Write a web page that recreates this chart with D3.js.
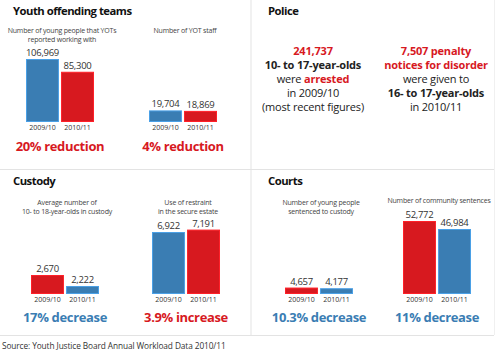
<!DOCTYPE html>
<html><head><meta charset="utf-8">
<script src="https://cdn.jsdelivr.net/npm/d3@7"></script>
<style>
html,body{margin:0;padding:0;background:#fff;}
svg{display:block;font-family:"Open Sans","Noto Sans",sans-serif;}
</style></head><body>
<svg id="c" width="500" height="355"></svg>
<script>
const years = ["2009/10", "2010/11"];
const BLUE = "#3a7db3", RED = "#d7191f";

// chart data
const yotWorkedWith = [106969, 85300];
const yotStaff = [19704, 18869];
const custodyAverage = [2670, 2222];
const restraintUse = [6922, 7191];
const sentencedCustody = [4657, 4177];
const communitySentences = [52772, 46984];

const sectionTitles = ["Youth offending teams", "Police", "Custody", "Courts"];
const chartSubtitles = [
  ["Number of young people that YOTs", "reported working with"],
  ["Number of YOT staff"],
  ["Average number of", "10- to 18-year-olds in custody"],
  ["Use of restraint", "in the secure estate"],
  ["Number of young people", "sentenced to custody"],
  ["Number of community sentences"]
];
const changeLabels = ["20% reduction", "4% reduction", "17% decrease", "3.9% increase", "10.3% decrease", "11% decrease"];
const policeLeft = [
  [{t:"241,737", c:"red", b:true}],
  [{t:"10- to 17-year-olds", c:"dark", b:true}],
  [{t:"were ", c:"dark", b:false},{t:"arrested", c:"red", b:true}],
  [{t:"in 2009/10", c:"dark", b:false}],
  [{t:"(most recent figures)", c:"dark", b:false}]
];
const policeRight = [
  [{t:"7,507 penalty", c:"red", b:true}],
  [{t:"notices for disorder", c:"red", b:true}],
  [{t:"were given to", c:"dark", b:false}],
  [{t:"16- to 17-year-olds", c:"dark", b:true}],
  [{t:"in 2010/11", c:"dark", b:false}]
];
const sourceText = "Source: Youth Justice Board Annual Workload Data 2010/11";

const svg = d3.select("#c");
const DARK = "#222";
const GREY = "#444";

// frame lines
const lineCol = "#e3e3e3";
svg.append("line").attr("x1",251).attr("x2",251).attr("y1",0).attr("y2",335).attr("stroke",lineCol);
svg.append("line").attr("x1",0).attr("x2",494).attr("y1",169.5).attr("y2",169.5).attr("stroke",lineCol);
svg.append("line").attr("x1",0).attr("x2",494).attr("y1",335.5).attr("y2",335.5).attr("stroke",lineCol);
svg.append("line").attr("x1",494.5).attr("x2",494.5).attr("y1",0).attr("y2",335).attr("stroke","#f0f0f0");

// section titles
const titlePos = [[13,15],[268,15],[13,185],[268,185]];
sectionTitles.forEach((t,i)=>{
  svg.append("text").attr("x",titlePos[i][0]).attr("y",titlePos[i][1])
    .attr("font-size",11.3).attr("font-weight",700).attr("fill","#111")
    .attr("letter-spacing",-0.5).text(t);
});

const charts = [
  {vals: yotWorkedWith, x0: 26, base: 122, max: 106969, h: 63, d0: 0, cols:[BLUE,RED], sub: chartSubtitles[0], subY: 33, lab: changeLabels[0], labCol: RED, labY: 151},
  {vals: yotStaff, x0: 149, base: 122, max: 106969, h: 63, d0: 0, cols:[BLUE,RED], sub: chartSubtitles[1], subY: 33, lab: changeLabels[1], labCol: RED, labY: 151},
  {vals: custodyAverage, x0: 31, base: 294, max: 2670, h: 19, d0: 1896, cols:[RED,BLUE], sub: chartSubtitles[2], subY: 205, lab: changeLabels[2], labCol: BLUE, labY: 322},
  {vals: restraintUse, x0: 152, base: 294, max: 6922, h: 62, d0: 0, cols:[BLUE,RED], sub: chartSubtitles[3], subY: 205, lab: changeLabels[3], labCol: RED, labY: 322},
  {vals: sentencedCustody, x0: 285, base: 294, max: 52772, h: 73, d0: 0, cols:[RED,BLUE], sub: chartSubtitles[4], subY: 205, lab: changeLabels[4], labCol: BLUE, labY: 322},
  {vals: communitySentences, x0: 403, base: 294, max: 52772, h: 73, d0: 0, cols:[RED,BLUE], sub: chartSubtitles[5], subY: 203, lab: changeLabels[5], labCol: BLUE, labY: 322}
];
const fmt = d3.format(",");

charts.forEach(ch=>{
  const g = svg.append("g");
  const x = d3.scaleBand().domain(years).range([ch.x0, ch.x0+68]).paddingInner(0.06).paddingOuter(0);
  const y = d3.scaleLinear().domain([ch.d0, ch.max]).range([ch.base, ch.base-ch.h]);
  const cx = ch.x0 + 34;
  ch.sub.forEach((s,i)=>{
    g.append("text").attr("x",cx+2).attr("y",ch.subY + i*9).attr("text-anchor","middle")
      .attr("font-size",7).attr("fill",GREY).attr("letter-spacing",-0.2).text(s);
  });
  g.selectAll("rect").data(ch.vals).join("rect")
    .attr("x",(d,i)=>x(years[i])+0.5).attr("width",x.bandwidth()-1)
    .attr("y",d=>y(d)+0.5).attr("height",d=>ch.base-y(d)-1)
    .attr("fill",(d,i)=>ch.cols[i])
    .attr("stroke",(d,i)=>d3.color(ch.cols[i]).brighter(0.7)).attr("stroke-width",1);
  g.selectAll("text.v").data(ch.vals).join("text").attr("class","v")
    .attr("x",(d,i)=>x(years[i])+x.bandwidth()/2).attr("y",d=>y(d)-3)
    .attr("text-anchor","middle").attr("font-size",9.5).attr("fill","#333")
    .attr("letter-spacing",-0.3).text(d=>fmt(d));
  const ax = d3.axisBottom(x).tickSize(0).tickPadding(0);
  const axg = g.append("g").attr("transform",`translate(0,${ch.base+8})`).call(ax);
  axg.select(".domain").remove();
  axg.selectAll("text").attr("font-size",7).attr("fill","#333").attr("font-family","'Open Sans',sans-serif").attr("dy","0");
  g.append("text").attr("x",cx).attr("y",ch.labY).attr("text-anchor","middle")
    .attr("font-size",13).attr("font-weight",700).attr("fill",ch.labCol)
    .attr("letter-spacing",-0.35).text(ch.lab);
});

function block(lines, cx, y0){
  lines.forEach((ln,i)=>{
    const t = svg.append("text").attr("x",cx).attr("y",y0+i*14).attr("text-anchor","middle")
      .attr("font-size",11).attr("letter-spacing",-0.2);
    ln.forEach(seg=>{
      t.append("tspan").attr("font-weight",seg.b?700:400)
        .attr("fill",seg.c==="red"?RED:DARK).text(seg.t);
    });
  });
}
block(policeLeft, 313, 55);
block(policeRight, 436, 55);

svg.append("text").attr("x",2).attr("y",349).attr("font-size",8.3).attr("fill","#333")
  .attr("letter-spacing",-0.1).text(sourceText);
</script></body></html>
